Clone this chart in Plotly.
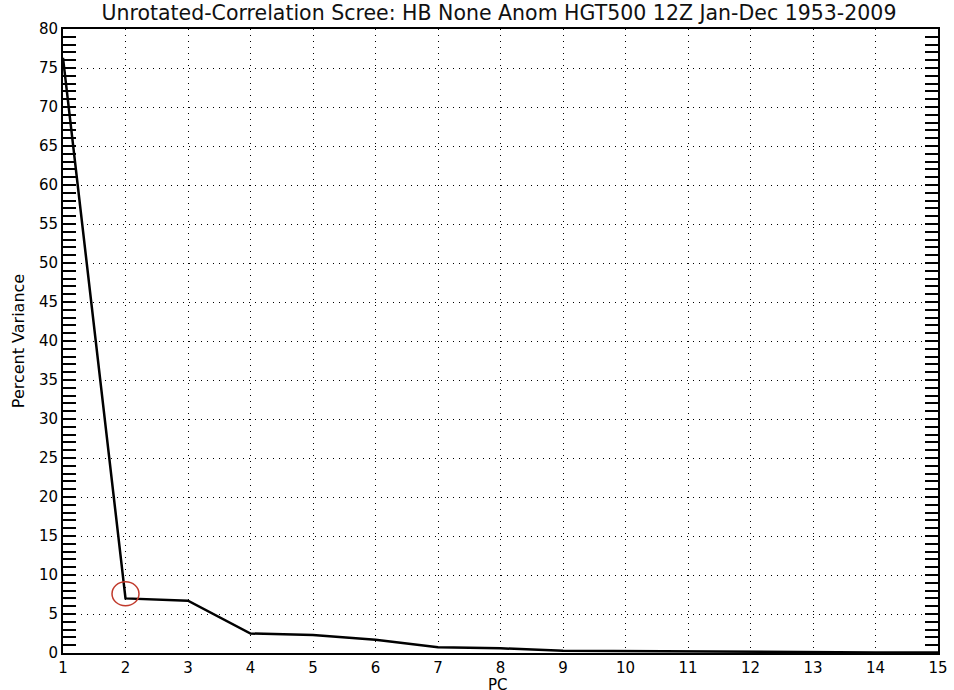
import plotly.graph_objects as go

pcs = list(range(1, 16))
pct_var = [76.3, 7.0, 6.7, 2.5, 2.3, 1.7, 0.75, 0.6, 0.3, 0.25, 0.15, 0.12, 0.1, 0.08, 0.05]
x_ticks = list(range(1, 16))
y_ticks = list(range(0, 81, 5))
title = "Unrotated-Correlation Scree: HB None Anom HGT500 12Z Jan-Dec 1953-2009"
x_title = "PC"
mark_pc = 2
mark_val = 7.6

FONT = "DejaVu Sans"

fig = go.Figure()
fig.add_trace(go.Scatter(x=pcs, y=pct_var, mode="lines",
                         line=dict(color="black", width=2.5), showlegend=False))

fig.add_shape(type="circle", xref="x", yref="y", xsizemode="pixel", ysizemode="pixel",
              xanchor=mark_pc, yanchor=mark_val, x0=-13.5, x1=13.5, y0=-12, y1=12,
              line=dict(color="#c0392b", width=1.5))

fig.add_annotation(text=x_title, xref="paper", yref="paper", x=0.497, y=0,
                   xanchor="center", yanchor="top", yshift=-21, showarrow=False,
                   font=dict(family=FONT, size=15, color="black"))

fig.update_layout(
    width=954, height=690,
    paper_bgcolor="white", plot_bgcolor="white",
    margin=dict(l=63, r=16, t=29, b=37),
    title=dict(text=title, x=0.523, xanchor="center", yref="container",
               y=1 - 13 / 690, yanchor="middle",
               font=dict(family=FONT, size=20.5, color="#111111")),
    font=dict(family=FONT, color="black"),
)

fig.update_xaxes(range=[1, 15], tickvals=x_ticks, ticktext=[str(v) for v in x_ticks],
                 showgrid=True, gridcolor="black", gridwidth=1, griddash="1px,5px",
                 showline=True, linecolor="black", linewidth=2, mirror=True,
                 ticks="", zeroline=False, tickfont=dict(size=15), automargin=False)
fig.update_yaxes(range=[0, 80], tickvals=y_ticks, ticktext=[str(v) for v in y_ticks],
                 showgrid=True, gridcolor="black", gridwidth=1, griddash="1px,5px",
                 showline=True, linecolor="black", linewidth=2, mirror="allticks",
                 ticks="inside", ticklen=13, tickcolor="black", tickwidth=1.5,
                 minor=dict(dtick=1, ticks="inside", ticklen=13, tickcolor="black",
                            tickwidth=1.5, showgrid=False),
                 zeroline=False, tickfont=dict(size=15), automargin=False,
                 title=dict(text="Percent Variance", font=dict(size=16), standoff=10))

fig.write_html("out.html", config={"displayModeBar": False},
               post_script="document.body.style.margin='0';document.body.style.overflow='hidden';")
